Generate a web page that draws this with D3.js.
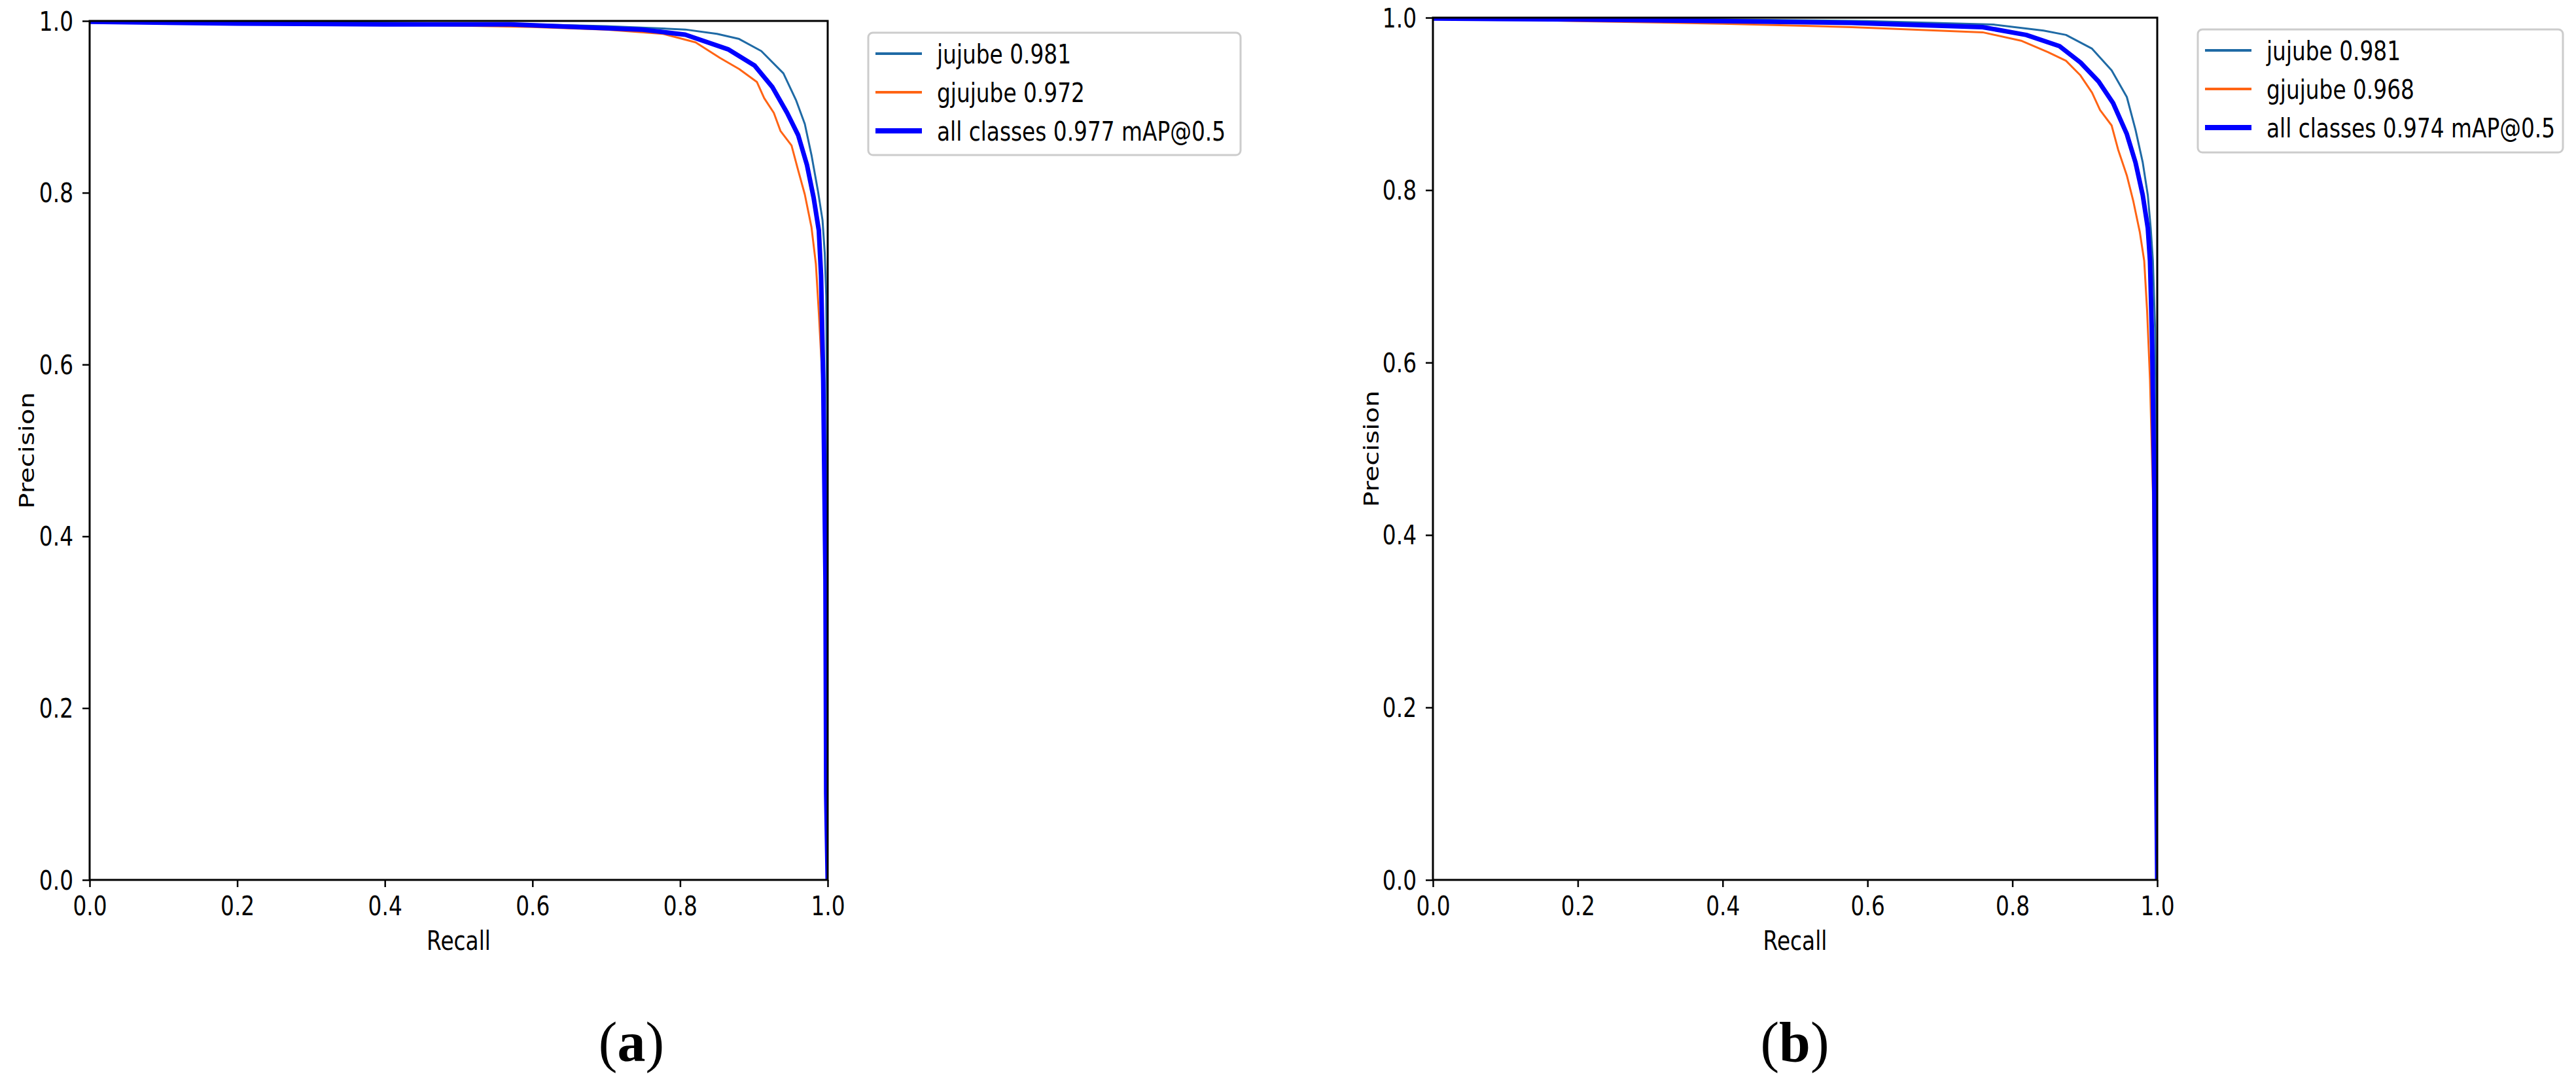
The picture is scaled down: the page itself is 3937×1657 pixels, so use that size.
<!DOCTYPE html>
<html>
<head>
<meta charset="utf-8">
<script src="https://cdn.jsdelivr.net/npm/d3@7"></script>
<style>
  body { margin: 0; background: #fff; }
  text { font-family: 'DejaVu Sans', sans-serif; fill: #000; }
  text.tag { font-family: 'Liberation Serif', 'Times New Roman', serif; }
</style>
</head>
<body>
<script>
const width = 3937;
const height = 1657;
const squeeze = 0.82; // the figure was squashed sideways, text included

const ticks = [0, 0.2, 0.4, 0.6, 0.8, 1.0];

// (a) recall / precision pairs
const jujubeA = [[0, 1.0], [0.2, 0.999], [0.4, 0.998], [0.6, 0.996], [0.7, 0.994], [0.807, 0.990], [0.85, 0.985],
  [0.88, 0.979], [0.91, 0.965], [0.94, 0.939], [0.957, 0.908], [0.969, 0.880], [0.978, 0.844], [0.987, 0.801],
  [0.993, 0.768], [0.996, 0.730], [0.998, 0.68], [0.999, 0.55], [0.999, 0.3], [1.0, 0.0]];
const gjujubeA = [[0, 1.0], [0.2, 0.998], [0.4, 0.996], [0.6, 0.993], [0.7, 0.990], [0.777, 0.985], [0.821, 0.975],
  [0.854, 0.957], [0.880, 0.944], [0.904, 0.929], [0.914, 0.910], [0.927, 0.893], [0.936, 0.872], [0.951, 0.855],
  [0.960, 0.826], [0.969, 0.798], [0.978, 0.760], [0.984, 0.717], [0.988, 0.66], [0.993, 0.58], [0.996, 0.4], [1.0, 0.0]];
const allA = [[0, 0.999], [0.2, 0.997], [0.4, 0.996], [0.57, 0.996], [0.747, 0.990], [0.807, 0.984], [0.865, 0.967],
  [0.901, 0.948], [0.925, 0.923], [0.945, 0.893], [0.960, 0.867], [0.972, 0.832], [0.981, 0.794], [0.988, 0.756],
  [0.991, 0.704], [0.994, 0.58], [0.997, 0.35], [0.998, 0.1], [1.0, 0.0]];

// (b)
const jujubeB = [[0, 1.0], [0.2, 0.999], [0.4, 0.998], [0.6, 0.996], [0.774, 0.992], [0.843, 0.985], [0.874, 0.980],
  [0.910, 0.964], [0.937, 0.939], [0.958, 0.908], [0.970, 0.870], [0.980, 0.832], [0.987, 0.794], [0.991, 0.756],
  [0.994, 0.718], [0.997, 0.64], [0.999, 0.5], [1.0, 0.0]];
const gjujubeB = [[0, 1.0], [0.2, 0.996], [0.4, 0.993], [0.578, 0.989], [0.759, 0.983], [0.813, 0.973], [0.849, 0.960],
  [0.874, 0.950], [0.894, 0.933], [0.910, 0.913], [0.921, 0.893], [0.937, 0.875], [0.946, 0.847], [0.958, 0.817],
  [0.967, 0.787], [0.976, 0.751], [0.982, 0.718], [0.986, 0.66], [0.990, 0.58], [0.994, 0.45], [1.0, 0.0]];
const allB = [[0, 0.999], [0.2, 0.998], [0.4, 0.996], [0.578, 0.994], [0.759, 0.989], [0.819, 0.980], [0.865, 0.967],
  [0.894, 0.948], [0.919, 0.926], [0.939, 0.901], [0.958, 0.865], [0.970, 0.832], [0.980, 0.794], [0.987, 0.756],
  [0.990, 0.718], [0.993, 0.62], [0.996, 0.45], [0.998, 0.2], [1.0, 0.0]];

const legendA = ['jujube 0.981', 'gjujube 0.972', 'all classes 0.977 mAP@0.5'];
const legendB = ['jujube 0.981', 'gjujube 0.968', 'all classes 0.974 mAP@0.5'];

const colors = ['#1f6aa5', '#ff6414', '#0000ff'];
const lineWidths = [3, 3, 7];

const panels = [
  { id: 'a', left: 137, right: 1265, top: 32, bottom: 1345, series: [jujubeA, gjujubeA, allA], labels: legendA,
    legend: { x: 1327, y: 50, w: 569, h: 187 }, ylabelX: 38, tagX: 965 },
  { id: 'b', left: 2190, right: 3297, top: 27, bottom: 1345, series: [jujubeB, gjujubeB, allB], labels: legendB,
    legend: { x: 3359, y: 45, w: 558, h: 188 }, ylabelX: 2093, tagX: 2743 }
];

const svg = d3.select('body')
  .append('svg')
  .attr('width', width)
  .attr('height', height);

svg.append('rect').attr('width', width).attr('height', height).attr('fill', '#fff');

const squeezeText = (sel, dx, dy) => sel
  .attr('x', 0).attr('y', 0)
  .attr('transform', `translate(${dx},${dy}) scale(${squeeze},1)`);

const drawPanel = p => {
  const x = d3.scaleLinear().domain([0, 1]).range([p.left, p.right]);
  const y = d3.scaleLinear().domain([0, 1]).range([p.bottom, p.top]);
  const g = svg.append('g').attr('class', 'panel-' + p.id);

  g.append('clipPath').attr('id', 'clip-' + p.id)
    .append('rect')
    .attr('x', p.left).attr('y', p.top)
    .attr('width', p.right - p.left).attr('height', p.bottom - p.top);

  const line = d3.line().x(d => x(d[0])).y(d => y(d[1]));

  g.append('g').attr('clip-path', `url(#clip-${p.id})`)
    .selectAll('path')
    .data(p.series).enter()
    .append('path')
    .attr('d', line)
    .attr('fill', 'none')
    .attr('stroke', (d, i) => colors[i])
    .attr('stroke-width', (d, i) => lineWidths[i])
    .attr('stroke-linejoin', 'round');

  // axes
  const yAxis = g.append('g')
    .attr('transform', `translate(${p.left},0)`)
    .call(d3.axisLeft(y).tickValues(ticks).tickFormat(d3.format('.1f')).tickSize(11));
  const xAxis = g.append('g')
    .attr('transform', `translate(0,${p.bottom})`)
    .call(d3.axisBottom(x).tickValues(ticks).tickFormat(d3.format('.1f')).tickSize(11));

  [yAxis, xAxis].forEach(ax => {
    ax.select('.domain').remove();
    ax.selectAll('line').attr('stroke', '#000').attr('stroke-width', 2.5);
    ax.selectAll('text').attr('font-size', 40).attr('font-family', 'DejaVu Sans').attr('fill', '#000');
  });
  yAxis.selectAll('text').attr('dy', '0.35em').call(squeezeText, -25, 0);
  xAxis.selectAll('text').attr('dy', 0).call(squeezeText, 0, 54);

  g.append('rect')
    .attr('x', p.left).attr('y', p.top)
    .attr('width', p.right - p.left).attr('height', p.bottom - p.top)
    .attr('fill', 'none')
    .attr('stroke', '#000')
    .attr('stroke-width', 3);

  // axis titles
  const midX = (p.left + p.right) / 2;
  g.append('text')
    .attr('text-anchor', 'middle')
    .attr('font-size', 40)
    .text('Recall')
    .call(squeezeText, midX, 1452);

  g.append('text')
    .attr('text-anchor', 'middle')
    .attr('font-size', 40)
    .attr('x', 0).attr('y', 0)
    .attr('transform', `translate(${p.ylabelX + 14},${(p.top + p.bottom) / 2}) scale(${squeeze},1) rotate(-90)`)
    .text('Precision');

  // legend
  const lg = g.append('g').attr('transform', `translate(${p.legend.x},${p.legend.y})`);
  lg.append('rect')
    .attr('width', p.legend.w).attr('height', p.legend.h)
    .attr('rx', 7)
    .attr('fill', '#fff')
    .attr('stroke', '#cccccc')
    .attr('stroke-width', 3);
  const rowY = [32, 91, 150];
  const rows = lg.selectAll('g.row')
    .data(p.labels).enter()
    .append('g')
    .attr('class', 'row')
    .attr('transform', (d, i) => `translate(0,${rowY[i]})`);
  rows.append('line')
    .attr('x1', 11).attr('x2', 82)
    .attr('stroke', (d, i) => colors[i])
    .attr('stroke-width', (d, i) => lineWidths[i] + 1);
  rows.append('text')
    .attr('font-size', 40)
    .text(d => d)
    .call(squeezeText, 105, 15);

  // sub-figure tag
  const tag = g.append('text')
    .attr('class', 'tag')
    .attr('x', p.tagX).attr('y', 1622)
    .attr('text-anchor', 'middle')
    .attr('font-size', 86);
  tag.append('tspan').text('(');
  tag.append('tspan').attr('font-weight', 'bold').text(p.id);
  tag.append('tspan').text(')');
};

panels.forEach(drawPanel);
</script>
</body>
</html>
